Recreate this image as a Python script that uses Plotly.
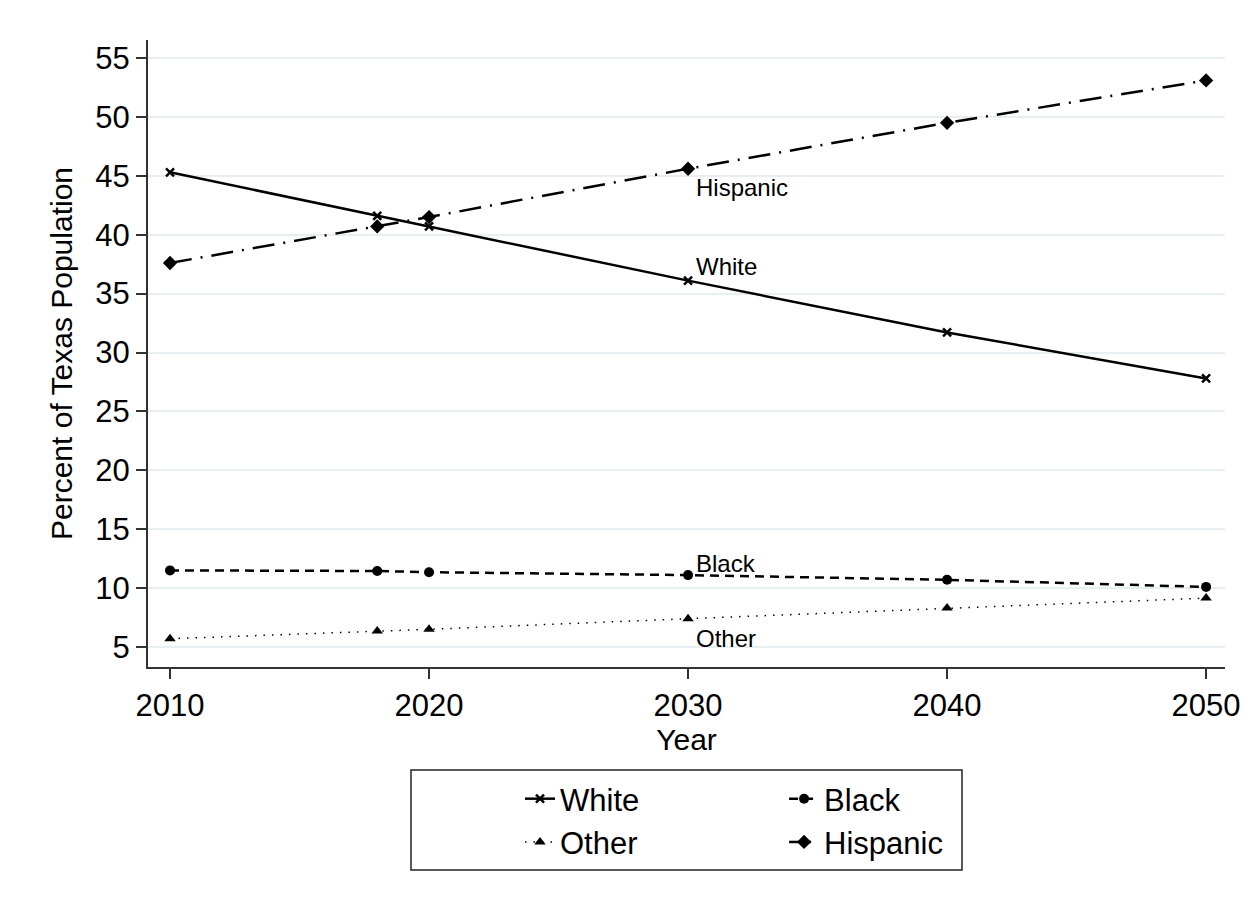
import plotly.graph_objects as go

years = [2010, 2018, 2020, 2030, 2040, 2050]
white = [45.3, 41.6, 40.7, 36.1, 31.7, 27.8]
black = [11.5, 11.45, 11.35, 11.1, 10.7, 10.1]
other = [5.7, 6.35, 6.5, 7.4, 8.3, 9.15]
hispanic = [37.6, 40.7, 41.5, 45.6, 49.5, 53.1]

y_ticks = [5, 10, 15, 20, 25, 30, 35, 40, 45, 50, 55]
x_ticks = [2010, 2020, 2030, 2040, 2050]
label_year = 2030

FONT = "Liberation Sans, Arial, sans-serif"

fig = go.Figure()
fig.add_trace(go.Scatter(x=years, y=white, name="White", mode="lines+markers",
                         legend="legend",
                         line=dict(color="black", width=2.5, dash="solid"),
                         marker=dict(symbol="x-thin", size=8, color="black",
                                     line=dict(width=2.5, color="black"))))
fig.add_trace(go.Scatter(x=years, y=black, name="Black", mode="lines+markers",
                         legend="legend2",
                         line=dict(color="black", width=2.5, dash="9px,6px"),
                         marker=dict(symbol="circle", size=10, color="black")))
fig.add_trace(go.Scatter(x=years, y=other, name="Other", mode="lines+markers",
                         legend="legend",
                         line=dict(color="black", width=1.5, dash="1.5px,7px"),
                         marker=dict(symbol="triangle-up", size=10, color="black")))
fig.add_trace(go.Scatter(x=years, y=hispanic, name="Hispanic", mode="lines+markers",
                         legend="legend2",
                         line=dict(color="black", width=2.5, dash="22px,9px,2px,9px"),
                         marker=dict(symbol="diamond", size=11, color="black")))

idx = years.index(label_year)
labels = [("Hispanic", hispanic[idx], -19), ("White", white[idx], 14),
          ("Black", black[idx], 12), ("Other", other[idx], -20)]
for text, yv, ys in labels:
    fig.add_annotation(x=label_year, y=yv, text=text, showarrow=False,
                       xanchor="left", yanchor="middle", xshift=6, yshift=ys,
                       font=dict(size=24, color="black", family=FONT))

legend_common = dict(orientation="v", yanchor="top", xanchor="left", y=-0.1675,
                     borderwidth=0, bgcolor="rgba(0,0,0,0)",
                     font=dict(size=31, color="black", family=FONT),
                     itemwidth=30, traceorder="normal")

fig.add_shape(type="rect", xref="paper", yref="paper",
              x0=0.2442, x1=0.7558, y0=-0.3238, y1=-0.1643,
              line=dict(color="#222", width=1.5), fillcolor="white", layer="below")

fig.update_layout(
    width=1246, height=903,
    margin=dict(l=140, r=29, t=32, b=244),
    paper_bgcolor="white", plot_bgcolor="white",
    font=dict(family=FONT, color="black", size=30),
    showlegend=True,
    legend=dict(x=0.3454, **legend_common),
    legend2=dict(x=0.5906, **legend_common),
)
fig.update_xaxes(range=[2009.15, 2050.73], tickvals=x_ticks, ticks="outside",
                 ticklen=10, tickwidth=2, tickcolor="#333", showline=True,
                 linecolor="#333", linewidth=2, showgrid=False, zeroline=False,
                 automargin=False,
                 tickfont=dict(size=31), title=dict(text="Year", standoff=0,
                                                    font=dict(size=30)))
fig.update_yaxes(range=[3.3, 56.53], tickvals=y_ticks, ticks="outside",
                 ticklen=10, tickwidth=2, tickcolor="#333", showline=True,
                 linecolor="#333", linewidth=2, showgrid=True, gridcolor="#e8eff2",
                 gridwidth=2, zeroline=False, automargin=False,
                 tickfont=dict(size=31),
                 title=dict(text="Percent of Texas Population", standoff=14,
                            font=dict(size=30)))

fig.write_html("out.html")
